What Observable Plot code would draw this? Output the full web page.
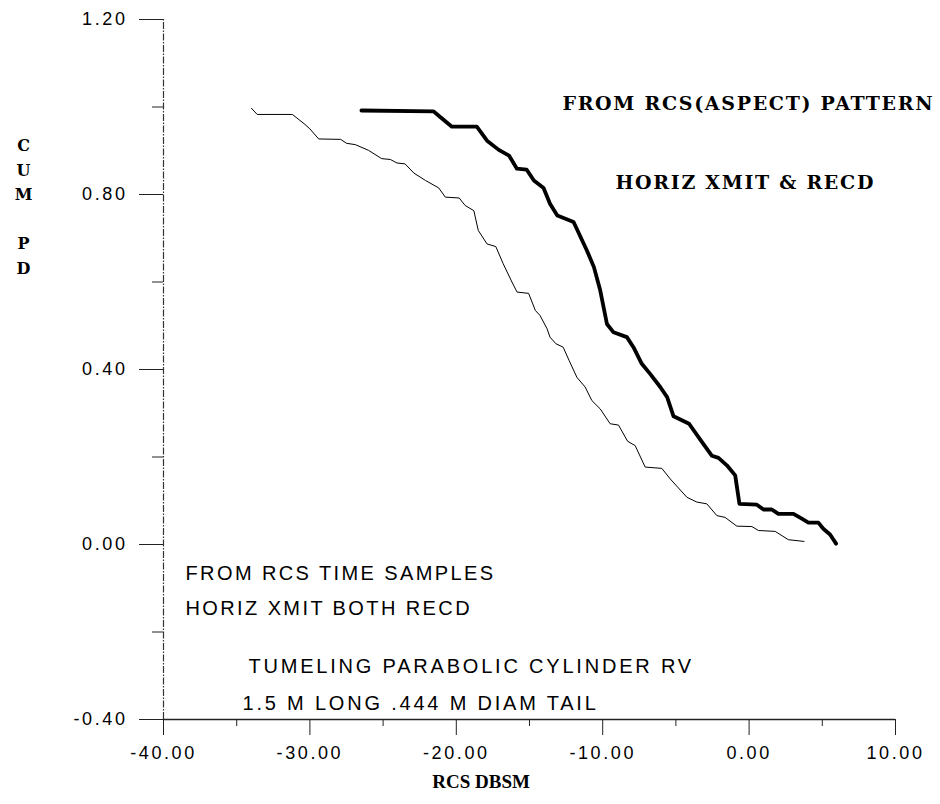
<!DOCTYPE html>
<html><head><meta charset="utf-8">
<script src="https://cdn.jsdelivr.net/npm/d3@7"></script>
<script src="https://cdn.jsdelivr.net/npm/@observablehq/plot@0.6"></script>
<style>
body{margin:0;background:#fff}
#chart svg{display:block}
</style>
</head><body><div id="chart"></div>
<script>
// RCS (dBsm) vs cumulative Pd — thin curve: from RCS time samples
const thinX = [-33.99,-33.6,-31.2,-30.4,-30.0,-29.4,-27.9,-27.5,-26.9,-26.0,-25.1,-24.5,-24.05,-23.5,-22.9,-22.1,-21.2,-20.75,-19.8,-19.4,-18.8,-18.5,-17.9,-17.3,-16.8,-16.2,-15.85,-15.06,-14.6,-14.27,-13.8,-13.6,-13.2,-12.7,-12.3,-11.76,-11.2,-10.74,-10.17,-9.49,-8.92,-8.3,-7.78,-7.1,-5.96,-5.39,-4.25,-3.57,-2.89,-2.2,-1.64,-0.84,0.19,0.64,1.78,2.68,3.75];
const thinY = [0.997,0.983,0.983,0.962,0.950,0.927,0.926,0.917,0.914,0.901,0.882,0.880,0.872,0.870,0.849,0.832,0.815,0.794,0.792,0.775,0.763,0.718,0.687,0.681,0.642,0.600,0.577,0.574,0.535,0.523,0.493,0.474,0.459,0.451,0.421,0.382,0.360,0.329,0.310,0.276,0.273,0.236,0.226,0.177,0.174,0.150,0.108,0.097,0.093,0.066,0.062,0.042,0.041,0.032,0.030,0.011,0.007];
// thick curve: from RCS(aspect) pattern
const thickX = [-26.48,-21.55,-21.1,-20.3,-18.6,-17.9,-17.1,-16.4,-15.86,-15.2,-14.7,-14.04,-13.6,-13.1,-11.99,-11.08,-10.6,-10.17,-9.71,-9.26,-8.35,-7.9,-7.33,-6.76,-6.07,-5.6,-5.16,-4.1,-3.3,-2.55,-2.09,-1.52,-0.95,-0.66,0.53,0.98,1.55,2.0,3.03,3.6,4.05,4.73,5.07,5.53,5.94];
const thickY = [0.992,0.990,0.977,0.955,0.955,0.923,0.902,0.889,0.859,0.857,0.832,0.815,0.779,0.752,0.737,0.672,0.634,0.581,0.504,0.485,0.474,0.451,0.413,0.390,0.360,0.337,0.293,0.276,0.238,0.203,0.198,0.181,0.158,0.093,0.091,0.080,0.080,0.070,0.070,0.059,0.050,0.050,0.036,0.023,0.002];

const yMajorTicks = [1.2, 0.8, 0.4, 0.0, -0.4];
const yMinorTicks = [1.0, 0.6, 0.2, -0.2];
const xMajorTicks = [-40, -30, -20, -10, 0, 10];
const xMinorTicks = [-35, -25, -15, -5, 5];

const xTitle = "RCS DBSM";
const yTitle = "C\nU\nM\n\nP\nD";
const patternNote1 = "FROM RCS(ASPECT) PATTERN";
const patternNote2 = "HORIZ XMIT & RECD";
const sampleNote1 = "FROM RCS TIME SAMPLES";
const sampleNote2 = "HORIZ XMIT BOTH RECD";
const targetNote1 = "TUMELING PARABOLIC CYLINDER RV";
const targetNote2 = "1.5 M LONG .444 M DIAM TAIL";

const thin = thinX.map((x, i) => ({x, y: thinY[i]}));
const thick = thickX.map((x, i) => ({x, y: thickY[i]}));
const fmt = d => d.toFixed(2);
const SANS = "'Liberation Sans', Arial, sans-serif";
const SERIF = "'DejaVu Serif', serif";

const chart = Plot.plot({
  width: 940, height: 804,
  marginLeft: 163, marginRight: 45, marginTop: 19, marginBottom: 85,
  x: {domain: [-40, 10]},
  y: {domain: [-0.4, 1.2]},
  style: {fontFamily: SANS, fontSize: "18px", color: "#000", background: "#fff"},
  marks: [
    Plot.ruleX([-40], {y1: -0.4, y2: 1.2, stroke: "#333", strokeWidth: 1.2, strokeDasharray: "7,1.5,1.5,1.5"}),
    Plot.ruleY([-0.4], {x1: -40, x2: 10, stroke: "#222", strokeWidth: 1.3}),
    Plot.axisY(yMajorTicks, {tickSize: 24, tickPadding: 12, tickFormat: fmt, label: null, stroke: "#222", fontSize: 18}),
    Plot.axisY(yMinorTicks, {tickSize: 11, tickFormat: () => "", label: null, stroke: "#222"}),
    Plot.axisX(xMajorTicks, {tickSize: 16, tickPadding: 11, tickFormat: fmt, label: null, stroke: "#222", fontSize: 18}),
    Plot.axisX(xMinorTicks, {tickSize: 7, tickFormat: () => "", label: null, stroke: "#222"}),
    Plot.line(thin, {x: "x", y: "y", stroke: "#000", strokeWidth: 1}),
    Plot.line(thick, {x: "x", y: "y", stroke: "#000", strokeWidth: 3.8, strokeLinejoin: "round", strokeLinecap: "round"}),
    Plot.text([patternNote1], {x: () => -12.75, y: () => 1.008, text: d => d, textAnchor: "start", fontFamily: SERIF, fontWeight: "bold", fontSize: 19}),
    Plot.text([patternNote2], {x: () => -9.13, y: () => 0.827, text: d => d, textAnchor: "start", fontFamily: SERIF, fontWeight: "bold", fontSize: 19}),
    Plot.text([sampleNote1], {x: () => -38.5, y: () => -0.066, text: d => d, textAnchor: "start", fontFamily: SANS, fontSize: 20}),
    Plot.text([sampleNote2], {x: () => -38.5, y: () => -0.146, text: d => d, textAnchor: "start", fontFamily: SANS, fontSize: 20}),
    Plot.text([targetNote1], {x: () => -34.2, y: () => -0.279, text: d => d, textAnchor: "start", fontFamily: SANS, fontSize: 20}),
    Plot.text([targetNote2], {x: () => -34.6, y: () => -0.363, text: d => d, textAnchor: "start", fontFamily: SANS, fontSize: 20}),
    Plot.text([xTitle], {x: () => -18.3, frameAnchor: "bottom", dy: 68, text: d => d, fontFamily: "'Liberation Serif', serif", fontWeight: "bold", fontSize: 19}),
    Plot.text([yTitle], {x: () => -40, y: () => 0.777, dx: -140, text: d => d, lineHeight: 1.53, fontFamily: SERIF, fontWeight: "bold", fontSize: 16})
  ]
});
document.getElementById("chart").appendChild(chart);
// plotter-style wide letter spacing
d3.select(chart).selectAll("text").each(function() {
  const t = this.textContent;
  if (t === sampleNote1 || t === sampleNote2) this.style.letterSpacing = "2.4px";
  else if (t === targetNote1 || t === targetNote2) this.style.letterSpacing = "2.8px";
  else if (/^-?\d+\.\d\d$/.test(t)) this.style.letterSpacing = "2.6px";
  else if (t === patternNote1 || t === patternNote2) this.style.letterSpacing = "1.7px";
});
</script>
</body></html>
